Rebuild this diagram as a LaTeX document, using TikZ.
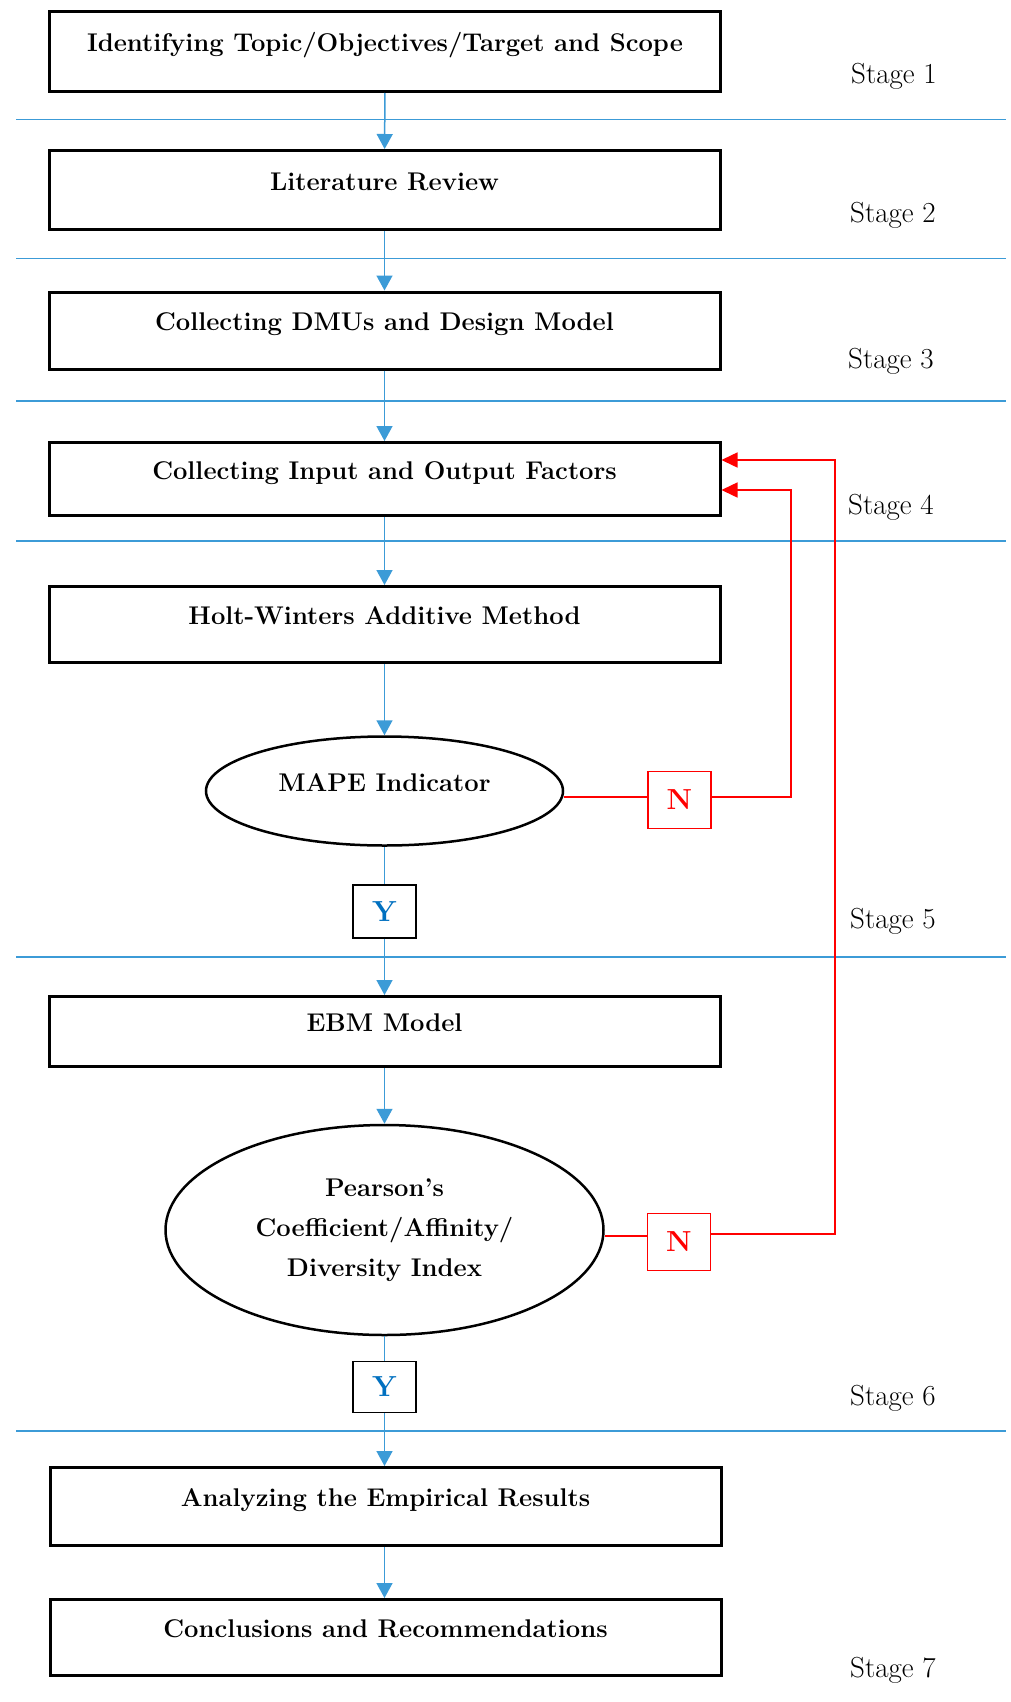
\documentclass[tikz,border=0pt]{standalone}
\usepackage{fontspec}
\usetikzlibrary{arrows.meta,shapes.geometric}
\definecolor{sepblue}{RGB}{60,155,215}
\definecolor{yblue}{RGB}{0,112,192}
\definecolor{fred}{RGB}{255,0,0}
\newcommand{\boxfont}{\fontsize{25.6}{40}\selectfont\bfseries}
\newcommand{\stagefont}{\fontsize{29}{34}\selectfont}
\newcommand{\ynfont}{\fontsize{29}{34}\selectfont\bfseries}
\begin{document}
\begin{tikzpicture}[x=1pt,y=-1pt,
  stepbox/.style={draw=black, line width=3pt, minimum width=671pt, inner sep=0pt,
    text height=#1, text depth=#1, font=\boxfont},
  ellbox/.style={ellipse, draw=black, line width=2.5pt, inner sep=0pt, font=\boxfont},
  stagelbl/.style={anchor=base, font=\stagefont},
  ybox/.style={draw=black, line width=1.5pt, minimum width=63pt, minimum height=53pt,
    inner sep=0pt, text=yblue, font=\ynfont},
  nbox/.style={draw=fred, line width=1.5pt, minimum width=63pt, minimum height=57pt,
    inner sep=0pt, text=fred, font=\ynfont},
  sepline/.style={draw=sepblue, line width=1.6pt},
  bluearrow/.style={draw=sepblue, line width=1.5pt, -{Triangle[length=15pt,width=16pt]}},
  blueline/.style={draw=sepblue, line width=1.5pt},
  redarrow/.style={draw=fred, line width=1.5pt, -{Triangle[length=16pt,width=15pt]}},
  redline/.style={draw=fred, line width=1.5pt}
]
\useasboundingbox (0,0) rectangle (1010,1702);
\fill[white] (0,0) rectangle (1010,1702);

% separator lines
\foreach \yy in {119.5,258.5,401,541,957,1431}
  \draw[sepline] (16,\yy) -- (1006,\yy);

% main boxes
\node[stepbox=40pt]   (b1) at (385,51.5)  {Identifying Topic/Objectives/Target and Scope};
\node[stepbox=39.5pt] (b2) at (384.5,190) {Literature Review};
\node[stepbox=38.5pt] (b3) at (384.5,330.5) {Collecting DMUs and Design Model};
\node[stepbox=36.5pt] (b4) at (384.5,479) {Collecting Input and Output Factors};
\node[stepbox=38pt]   (b5) at (384.5,624.5) {Holt-Winters Additive Method};
\node[ellbox, minimum width=357pt, minimum height=109pt, text height=9pt, text depth=9pt]
  (mape) at (384.5,791) {MAPE Indicator};
\node[ybox] (y1) at (384.5,911.5) {Y};
\node[nbox] (n1) at (679.5,800) {N};
\node[stepbox=35pt]   (b6) at (384.5,1031.5) {EBM Model};
\node[ellbox, minimum width=438pt, minimum height=210pt, align=center]
  (pear) at (384.5,1230) {Pearson’s\\Coefficient/Affinity/\\Diversity Index};
\node[nbox] (n2) at (679,1242) {N};
\node[ybox, minimum height=51pt] (y2) at (384.5,1387) {Y};
\node[stepbox=39pt]   (b7) at (385.5,1506.5) {Analyzing the Empirical Results};
\node[stepbox=38pt]   (b8) at (385.5,1637.5) {Conclusions and Recommendations};

% stage labels
\node[stagelbl] (s1) at (894,84) {Stage 1};
\node[stagelbl] (s2) at (893,222) {Stage 2};
\node[stagelbl] (s3) at (891,368) {Stage 3};
\node[stagelbl] (s4) at (891,514) {Stage 4};
\node[stagelbl] (s5) at (893,928) {Stage 5};
\node[stagelbl] (s6) at (893,1405) {Stage 6};
\node[stagelbl] (s7) at (893,1677) {Stage 7};

% blue connectors
\draw[bluearrow] (b1) -- (b2);
\draw[bluearrow] (b2) -- (b3);
\draw[bluearrow] (b3) -- (b4);
\draw[bluearrow] (b4) -- (b5);
\draw[bluearrow] (b5) -- (mape);
\draw[blueline]  (mape) -- (y1);
\draw[bluearrow] (y1) -- (b6);
\draw[bluearrow] (b6) -- (pear);
\draw[blueline]  (pear) -- (y2);
\draw[bluearrow] (y2.south) -- (y2.south |- b7.north);
\draw[bluearrow] (b7.south -| y2.south) -- (y2.south |- b8.north);

% red feedback connectors
\coordinate (n1l) at ([yshift=3pt]n1.west);
\coordinate (n1r) at ([yshift=3pt]n1.east);
\coordinate (r1) at (791,490);
\draw[redline] (n1l -| mape.east) -- (n1l);
\draw[redarrow] (n1r) -| (r1) -- (r1 -| b4.east);

\coordinate (n2l) at ([yshift=6pt]n2.west);
\coordinate (n2r) at ([yshift=8pt]n2.east);
\coordinate (r2) at (835,460);
\draw[redline] (n2l -| pear.east) -- (n2l);
\draw[redarrow] (n2r) -| (r2) -- (r2 -| b4.east);
\end{tikzpicture}
\end{document}
